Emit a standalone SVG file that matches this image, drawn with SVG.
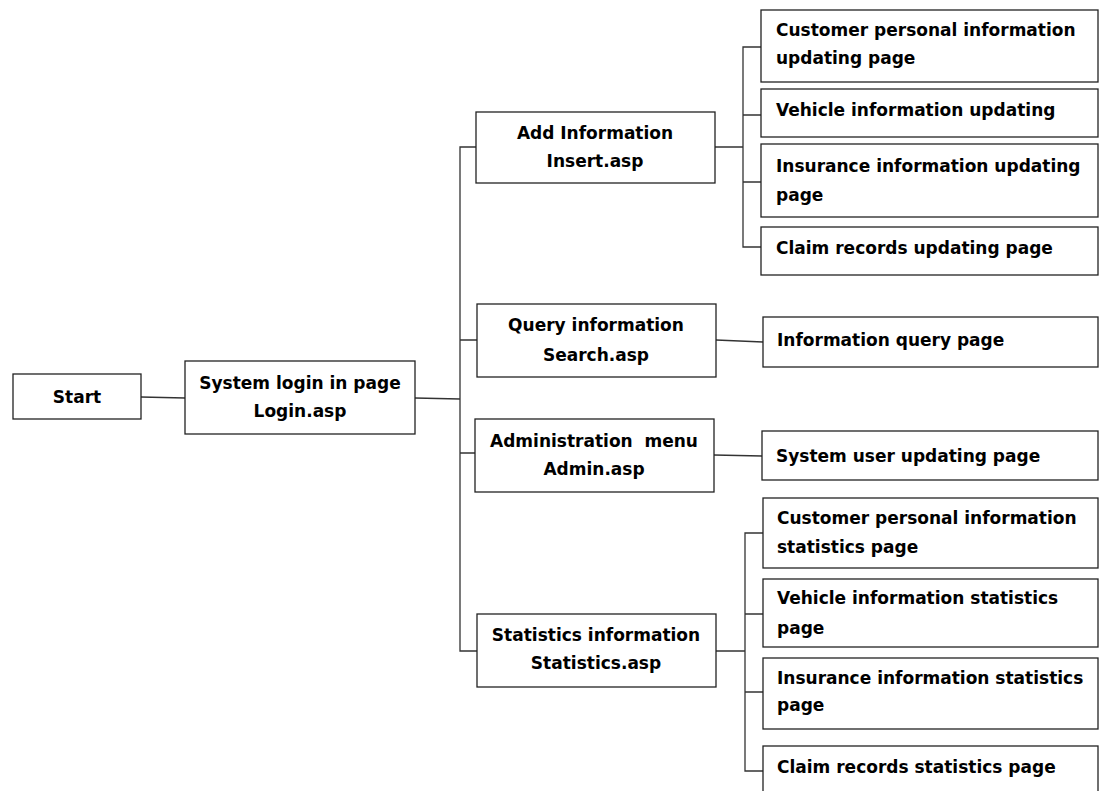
<svg xmlns="http://www.w3.org/2000/svg" width="1099" height="791" viewBox="0 0 1099 791">
<style>
.box{fill:#fff;stroke:#222;stroke-width:1.3}
.t{font-family:"DejaVu Sans","Liberation Sans",sans-serif;font-weight:bold;font-size:17px;fill:#000;dominant-baseline:central}
.c{text-anchor:middle}
.ln{fill:none;stroke:#333;stroke-width:1.3}
</style>
<rect width="1099" height="791" fill="#fff"/>
<g id="connectors">
<path class="ln" d="M141,397 L185,398"/>
<path class="ln" d="M415,398 L460,399"/>
<path class="ln" d="M476,147 H460 V651 H477 M460,340 H477 M460,453 H475"/>
<path class="ln" d="M715,147 H743 M761,47 H743 V247 H761 M743,115 H761 M743,182 H761"/>
<path class="ln" d="M716,340 L763,342"/>
<path class="ln" d="M714,455 L762,456"/>
<path class="ln" d="M716,651 H745 M763,533 H745 V771 H763 M745,614 H763 M745,692 H763"/>
</g>
<g id="start"><rect class="box" x="13" y="374" width="128" height="45"/><text class="t c" x="77" y="397">Start</text></g>
<g id="login"><rect class="box" x="185" y="361" width="230" height="73"/><text class="t c" x="300" y="383">System login in page</text><text class="t c" x="300" y="411">Login.asp</text></g>
<g id="add"><rect class="box" x="476" y="112" width="239" height="71"/><text class="t c" x="595" y="133">Add Information</text><text class="t c" x="595" y="161">Insert.asp</text></g>
<g id="query"><rect class="box" x="477" y="304" width="239" height="73"/><text class="t c" x="596" y="325">Query information</text><text class="t c" x="596" y="355">Search.asp</text></g>
<g id="admin"><rect class="box" x="475" y="419" width="239" height="73"/><text class="t c" x="594" y="441" xml:space="preserve">Administration  menu</text><text class="t c" x="594" y="469">Admin.asp</text></g>
<g id="stats"><rect class="box" x="477" y="614" width="239" height="73"/><text class="t c" x="596" y="635">Statistics information</text><text class="t c" x="596" y="663">Statistics.asp</text></g>
<g id="u1"><rect class="box" x="761" y="10" width="337" height="72"/><text class="t" x="776" y="30">Customer personal information</text><text class="t" x="776" y="58">updating page</text></g>
<g id="u2"><rect class="box" x="761" y="89" width="337" height="48"/><text class="t" x="776" y="110">Vehicle information updating</text></g>
<g id="u3"><rect class="box" x="761" y="144" width="337" height="73"/><text class="t" x="776" y="166">Insurance information updating</text><text class="t" x="776" y="195">page</text></g>
<g id="u4"><rect class="box" x="761" y="227" width="337" height="48"/><text class="t" x="776" y="248">Claim records updating page</text></g>
<g id="q1"><rect class="box" x="763" y="317" width="335" height="50"/><text class="t" x="777" y="340">Information query page</text></g>
<g id="a1"><rect class="box" x="762" y="431" width="336" height="49"/><text class="t" x="776" y="456">System user updating page</text></g>
<g id="s1"><rect class="box" x="763" y="498" width="335" height="70"/><text class="t" x="777" y="518">Customer personal information</text><text class="t" x="777" y="547">statistics page</text></g>
<g id="s2"><rect class="box" x="763" y="579" width="335" height="68"/><text class="t" x="777" y="598">Vehicle information statistics</text><text class="t" x="777" y="628">page</text></g>
<g id="s3"><rect class="box" x="763" y="658" width="335" height="71"/><text class="t" x="777" y="678">Insurance information statistics</text><text class="t" x="777" y="705">page</text></g>
<g id="s4"><rect class="box" x="763" y="746" width="335" height="60"/><text class="t" x="777" y="767">Claim records statistics page</text></g>
</svg>
